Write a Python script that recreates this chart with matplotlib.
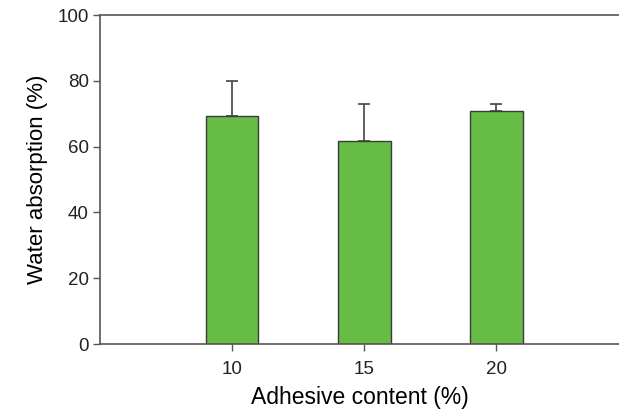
import numpy as np
import matplotlib
matplotlib.use('Agg')
import matplotlib.pyplot as plt

plt.rcParams['font.family'] = ['Liberation Sans', 'DejaVu Sans']

# Water absorption for each adhesive content level
adhesive_content = [10, 15, 20]
water_absorption = [69.2, 61.8, 70.8]
std_dev = [10.6, 11.1, 2.1]

fig = plt.figure(figsize=(6.19, 4.12), dpi=100)
ax = fig.add_axes([0.1616, 0.165, 0.8384, 0.7985])

bar_color = '#66bd46'
edge_color = '#3a3a3a'

ax.bar(adhesive_content, water_absorption, width=2.0, color=bar_color,
       edgecolor=edge_color, linewidth=1.0, zorder=2)
# upper error bars only
ax.errorbar(adhesive_content, water_absorption,
            yerr=[np.zeros(len(std_dev)), std_dev], fmt='none',
            ecolor='#444444', elinewidth=1.2, capsize=4.5, capthick=1.2, zorder=1)

ax.set_xlim(5, 24.65)
ax.set_ylim(0, 100)
ax.set_xticks(adhesive_content)
ax.set_yticks([0, 20, 40, 60, 80, 100])

ax.set_xlabel('Adhesive content (%)', fontsize=16.5, labelpad=6)
ax.set_ylabel('Water absorption (%)', fontsize=16, labelpad=7)

ax.spines['right'].set_visible(False)
for side in ['left', 'bottom', 'top']:
    ax.spines[side].set_color('#555555')
    ax.spines[side].set_linewidth(1.2)

ax.tick_params(axis='both', direction='out', length=5, width=1, color='#555555',
               labelsize=13.5, labelcolor='#222222', pad=3)
ax.tick_params(axis='x', pad=7)

fig.savefig('out.png', dpi=100)
